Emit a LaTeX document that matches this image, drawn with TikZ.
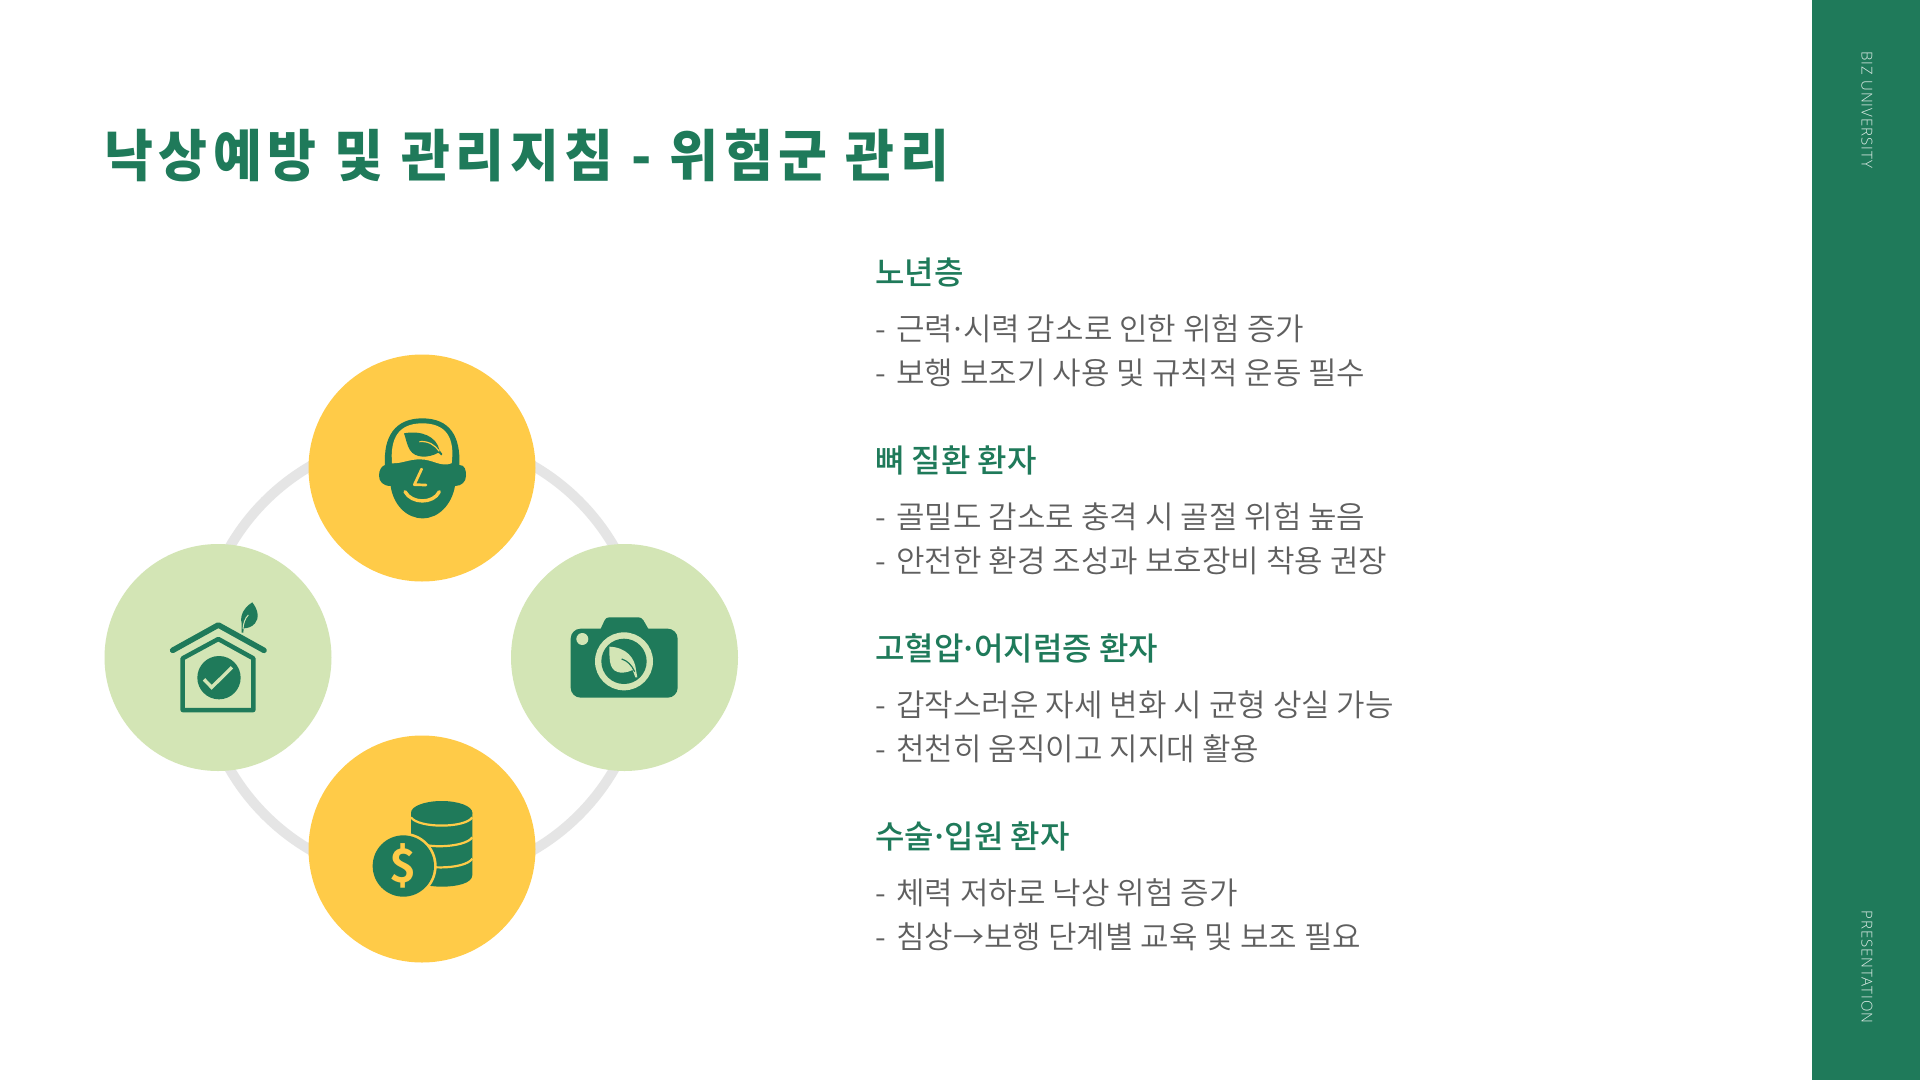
\documentclass[tikz,border=0pt]{standalone}
\usepackage{fontspec}
\setmainfont{Noto Sans CJK KR}
\newfontfamily\titlefont[FakeStretch=0.95,LetterSpace=10]{Noto Sans CJK KR Black}
\newfontfamily\headfont{Noto Sans CJK KR Medium}
\newfontfamily\bodyfont{Noto Sans CJK KR DemiLight}
\newfontfamily\dollarfont{Noto Sans CJK KR Bold}
\newfontfamily\sidefont[LetterSpace=7]{Open Sans Light}
\newcommand{\dt}{\kern-0.12em·\kern-0.12em}
\newcommand{\dsh}{-\kern3.5pt\ }
\definecolor{gr}{HTML}{1F7A5A}
\definecolor{ye}{HTML}{FFCB48}
\definecolor{lg}{HTML}{D3E5B5}
\definecolor{ringc}{HTML}{E5E5E5}
\definecolor{tx}{HTML}{5F5F5F}
\tikzset{
 disc/.style={circle,minimum size=227pt,inner sep=0pt,draw=none},
 headt/.style={anchor=west,inner sep=0pt,text=gr,font=\fontsize{32pt}{32pt}\headfont},
 bodyt/.style={anchor=west,inner sep=0pt,text=tx,font=\fontsize{31pt}{31pt}\bodyfont},
 sidet/.style={inner sep=0pt,text=white!85!gr,rotate=-90,font=\fontsize{15pt}{15pt}\sidefont},
}
\begin{document}
\begin{tikzpicture}[x=1pt,y=-1pt]
\useasboundingbox (0,0) rectangle (1920,1080);
\fill[white] (0,0) rectangle (1920,1080);
\fill[gr] (1812,0) rectangle (1920,1080);
\node[sidet] (sa) at (1867,110) {BIZ UNIVERSITY};
\node[sidet] (sb) at (1867,967) {PRESENTATION};
\node[anchor=west,inner sep=0pt,text=gr,font=\fontsize{56pt}{56pt}\titlefont] (title) at (104,155) {낙상예방 및 관리지침 - 위험군 관리};
% ring
\draw[ringc,line width=10pt] (422,658) circle [radius=222];
\node[disc,fill=ye] (top) at (422,468) {};
\node[disc,fill=lg] (left) at (218,657.5) {};
\node[disc,fill=lg] (right) at (624.5,657.5) {};
\node[disc,fill=ye] (bottom) at (422,849) {};
% head icon
\begin{scope}[shift={(340,380)},scale=1/3]
\fill[gr] (135,255) .. controls (130,170) and (165,115) .. (247,115) .. controls (330,115) and (362,170) .. (358,255)
  .. controls (375,255) and (378,270) .. (378,287) .. controls (378,305) and (365,318) .. (345,318)
  .. controls (335,375) and (295,415) .. (248,415) .. controls (200,415) and (160,375) .. (152,318)
  .. controls (130,318) and (117,305) .. (117,287) .. controls (117,270) and (125,258) .. (135,255) -- cycle;
\fill[ye] (156,250) .. controls (150,175) and (175,130) .. (247,130) .. controls (320,130) and (345,175) .. (335,250)
  .. controls (300,262) and (280,238) .. (240,238) .. controls (205,238) and (190,250) .. (156,250) -- cycle;
\fill[gr] (192,160) .. controls (245,150) and (290,170) .. (298,210) -- (307,222) -- (304,226) -- (295,218)
  .. controls (265,235) and (225,235) .. (210,210) .. controls (200,195) and (198,175) .. (192,160) -- cycle;
\draw[ye,line width=1.2pt] (238,185) .. controls (265,182) and (285,195) .. (298,214);
\draw[ye,line width=2.7pt,line cap=round,line join=round] (245,267) -- (223,314) -- (258,315);
\draw[ye,line width=3.4pt,line cap=round] (195,335) .. controls (215,372) and (280,372) .. (298,335);
\end{scope}
% house icon
\begin{scope}[shift={(140,580)},scale=1/3]
\draw[gr,line width=5.6pt,line cap=round,line join=round] (98,211) -- (235,135) -- (372,211);
\draw[gr,line width=4.5pt,line join=round] (128,235) -- (235,177) -- (340,235) -- (340,390) -- (128,390) -- cycle;
\fill[gr] (237,293) circle [radius=65];
\draw[lg,line width=3.4pt] (192,298) -- (215,322) -- (276,262);
\fill[gr] (337,67) .. controls (355,90) and (358,115) .. (345,130) .. controls (335,142) and (320,145) .. (311,145)
  -- (310,158) -- (305,158) -- (305,130) .. controls (298,105) and (315,80) .. (337,67) -- cycle;
\draw[lg,line width=1pt] (309,147) .. controls (310,130) and (315,115) .. (325,105);
\end{scope}
% camera icon
\begin{scope}[shift={(540,590)},scale=1/3]
\fill[gr,rounded corners=10pt] (92,116) rectangle (413,323);
\fill[gr,rounded corners=3pt] (178,125) -- (198,82) -- (305,82) -- (330,125) -- cycle;
\fill[lg] (127,147) circle [radius=18];
\fill[lg] (252,214) circle [radius=87];
\fill[gr] (252,214) circle [radius=68];
\fill[lg] (208,170) .. controls (260,172) and (285,205) .. (288,240) -- (292,262) -- (286,262) -- (278,240)
  .. controls (245,255) and (215,250) .. (210,215) .. controls (208,200) and (208,185) .. (208,170) -- cycle;
\draw[gr,line width=1.2pt] (245,207) .. controls (262,212) and (275,225) .. (284,245);
\end{scope}
% coins icon
\begin{scope}[shift={(350,780)},scale=1/3]
\fill[gr] (183,98) -- (183,285) .. controls (183,310) and (235,320) .. (275,320) .. controls (320,320) and (367,310) .. (367,285) -- (367,98) -- cycle;
\draw[ye,line width=2.2pt] (183,172) .. controls (200,210) and (345,205) .. (367,172);
\draw[ye,line width=2.2pt] (183,236) .. controls (200,272) and (345,270) .. (367,236);
\fill[gr] (275,98) ellipse [x radius=92, y radius=35];
\draw[ye,line width=2.2pt] (183,112) .. controls (205,145) and (345,145) .. (367,112);
\fill[ye] (160,258) circle [radius=100];
\fill[gr] (160,258) circle [radius=92];
\node[inner sep=0pt,text=ye,font=\fontsize{46pt}{46pt}\dollarfont] (dollar) at (158,258) {\$};
\end{scope}
% text
\node[headt] (h1) at (875,272) {노년층};
\node[bodyt] (a1) at (875,329) {\dsh 근력\dt 시력 감소로 인한 위험 증가};
\node[bodyt] (a2) at (875,373) {\dsh 보행 보조기 사용 및 규칙적 운동 필수};
\node[headt] (h2) at (875,460) {뼈 질환 환자};
\node[bodyt] (b1) at (875,517) {\dsh 골밀도 감소로 충격 시 골절 위험 높음};
\node[bodyt] (b2) at (875,561) {\dsh 안전한 환경 조성과 보호장비 착용 권장};
\node[headt] (h3) at (875,648) {고혈압\dt 어지럼증 환자};
\node[bodyt] (c1) at (875,705) {\dsh 갑작스러운 자세 변화 시 균형 상실 가능};
\node[bodyt] (c2) at (875,749) {\dsh 천천히 움직이고 지지대 활용};
\node[headt] (h4) at (875,836) {수술\dt 입원 환자};
\node[bodyt] (d1) at (875,893) {\dsh 체력 저하로 낙상 위험 증가};
\node[bodyt] (d2) at (875,937) {\dsh 침상→보행 단계별 교육 및 보조 필요};
\end{tikzpicture}
\end{document}
